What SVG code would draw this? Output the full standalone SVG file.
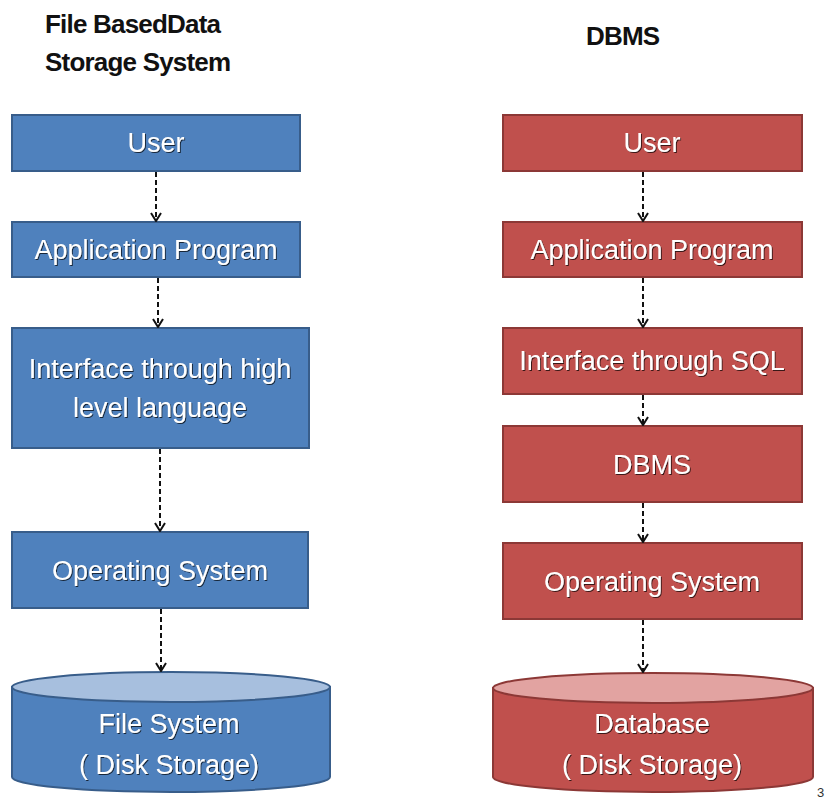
<svg xmlns="http://www.w3.org/2000/svg" width="829" height="802" viewBox="0 0 829 802">
<defs>
<style>
.head{font-family:"Liberation Sans",Arial,sans-serif;font-weight:bold;font-size:26px;fill:#111;letter-spacing:-0.8px}
.lbl{font-family:"Liberation Sans",Arial,sans-serif;font-size:27px;fill:#fff;text-anchor:middle;filter:url(#ts)}
.bb{fill:#4F81BD;stroke:#385D8A;stroke-width:2}
.rb{fill:#C0504D;stroke:#8C3836;stroke-width:2}
.btop{fill:#A7BFDE;stroke:#385D8A;stroke-width:2}
.rtop{fill:#E2A3A1;stroke:#8C3836;stroke-width:2}
.conn line{stroke:#111;stroke-width:2;stroke-dasharray:5 3;marker-end:url(#ah)}
</style>
<filter id="ts" x="-10%" y="-30%" width="120%" height="160%">
<feDropShadow dx="1" dy="1" stdDeviation="0.6" flood-color="#000" flood-opacity="0.7"/>
</filter>
<marker id="ah" viewBox="0 0 10 12" refX="9" refY="6" markerWidth="10" markerHeight="12" markerUnits="userSpaceOnUse" orient="auto">
<path d="M1,1 L9,6 L1,11" fill="none" stroke="#111" stroke-width="2"/>
</marker>
</defs>
<rect width="829" height="802" fill="#fff"/>
<g id="headings">
<text class="head" x="45" y="33">File BasedData</text>
<text class="head" x="45" y="71">Storage System</text>
<text class="head" x="586" y="45">DBMS</text>
</g>
<g id="l-user"><rect class="bb" x="12" y="115" width="288" height="56"/><text class="lbl" x="156" y="152">User</text></g>
<g id="l-app"><rect class="bb" x="12" y="222" width="288" height="55"/><text class="lbl" x="156" y="259">Application Program</text></g>
<g id="l-iface"><rect class="bb" x="12" y="328" width="297" height="120"/><text class="lbl" x="160" y="378">Interface through high</text><text class="lbl" x="160" y="417">level language</text></g>
<g id="l-os"><rect class="bb" x="12" y="532" width="296" height="76"/><text class="lbl" x="160" y="580">Operating System</text></g>
<g id="l-fs">
<path class="bb" d="M12,687 L12,777 A159,15 0 0 0 330,777 L330,687 Z"/>
<ellipse class="btop" cx="171" cy="687" rx="159" ry="15"/>
<text class="lbl" x="169" y="733">File System</text>
<text class="lbl" x="169" y="774">( Disk Storage)</text>
</g>
<g id="r-user"><rect class="rb" x="503" y="115" width="299" height="56"/><text class="lbl" x="652" y="152">User</text></g>
<g id="r-app"><rect class="rb" x="503" y="222" width="299" height="55"/><text class="lbl" x="652" y="259">Application Program</text></g>
<g id="r-iface"><rect class="rb" x="503" y="328" width="299" height="66"/><text class="lbl" x="652" y="370">Interface through SQL</text></g>
<g id="r-dbms"><rect class="rb" x="503" y="426" width="299" height="76"/><text class="lbl" x="652" y="474">DBMS</text></g>
<g id="r-os"><rect class="rb" x="503" y="543" width="299" height="76"/><text class="lbl" x="652" y="591">Operating System</text></g>
<g id="r-db">
<path class="rb" d="M493,688 L493,777 A160,15 0 0 0 813,777 L813,688 Z"/>
<ellipse class="rtop" cx="653" cy="688" rx="160" ry="15"/>
<text class="lbl" x="652" y="733">Database</text>
<text class="lbl" x="652" y="774">( Disk Storage)</text>
</g>
<g id="connectors" class="conn">
<line x1="156" y1="172" x2="156" y2="221"/>
<line x1="158" y1="278" x2="158" y2="327"/>
<line x1="160" y1="449" x2="160" y2="531"/>
<line x1="161" y1="609" x2="161" y2="671"/>
<line x1="643" y1="172" x2="643" y2="221"/>
<line x1="643" y1="278" x2="643" y2="327"/>
<line x1="643" y1="395" x2="643" y2="425"/>
<line x1="643" y1="503" x2="643" y2="542"/>
<line x1="643" y1="620" x2="643" y2="672"/>
</g>
<text x="817" y="797" font-family="Liberation Sans, Arial, sans-serif" font-size="13" fill="#333">3</text>
</svg>
